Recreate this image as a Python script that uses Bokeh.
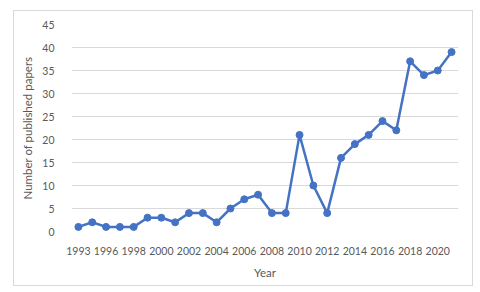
from bokeh.plotting import figure
from bokeh.models import ColumnDataSource, FixedTicker, Range1d, InlineStyleSheet
from bokeh.embed import file_html
from bokeh.resources import INLINE

years = ["1993", "1995", "1996", "1997", "1998", "1999", "2000", "2001", "2002", "2003",
         "2004", "2005", "2006", "2007", "2008", "2009", "2010", "2011", "2012", "2013",
         "2014", "2015", "2016", "2017", "2018", "2019", "2020", "2021"]
papers = [1, 2, 1, 1, 1, 3, 3, 2, 4, 4,
          2, 5, 7, 8, 4, 4, 21, 10, 4, 16,
          19, 21, 24, 22, 37, 34, 35, 39]
y_ticks = [0, 5, 10, 15, 20, 25, 30, 35, 40, 45]

idx = list(range(len(years)))
src = ColumnDataSource(dict(x=idx, year=years, n=papers))

FONT = "Lato"
GREY = "#595959"
BLUE = "#4472C4"

p = figure(width=460, height=276, x_range=Range1d(-0.5, len(years) - 0.5), y_range=(0, 45),
           output_backend="svg", toolbar_location=None,
           min_border_left=57, min_border_right=16, min_border_top=13, min_border_bottom=56)
p.stylesheets = [InlineStyleSheet(css=":host { border: 1px solid #d9d9d9; margin: 10px 0 0 13px; }")]
p.outline_line_color = None
p.background_fill_color = "white"
p.border_fill_color = "white"

p.line("x", "n", source=src, line_color=BLUE, line_width=2.5)
p.scatter("x", "n", source=src, size=7, fill_color=BLUE, line_color=BLUE)

p.yaxis.ticker = y_ticks
p.xaxis.ticker = FixedTicker(ticks=idx[::2])
p.xaxis.major_label_overrides = {i: years[i] for i in idx}

for ax in (p.xaxis[0], p.yaxis[0]):
    ax.axis_line_color = None
    ax.major_tick_line_color = None
    ax.minor_tick_line_color = None
    ax.major_label_text_font = FONT
    ax.major_label_text_font_size = "10.5px"
    ax.major_label_text_color = GREY
    ax.axis_label_text_font = FONT
    ax.axis_label_text_font_size = "11.5px"
    ax.axis_label_text_font_style = "normal"
    ax.axis_label_text_color = GREY

p.xaxis.axis_label = "Year"
p.yaxis.axis_label = "Number of published papers"
p.xaxis.major_label_standoff = 9
p.xaxis.axis_label_standoff = 8
p.yaxis.major_label_standoff = 11
p.yaxis.axis_label_standoff = 5

p.xgrid.grid_line_color = None
p.ygrid.grid_line_color = "#d9d9d9"
p.ygrid.grid_line_width = 1

open("out.html", "w").write(file_html(p, INLINE))
